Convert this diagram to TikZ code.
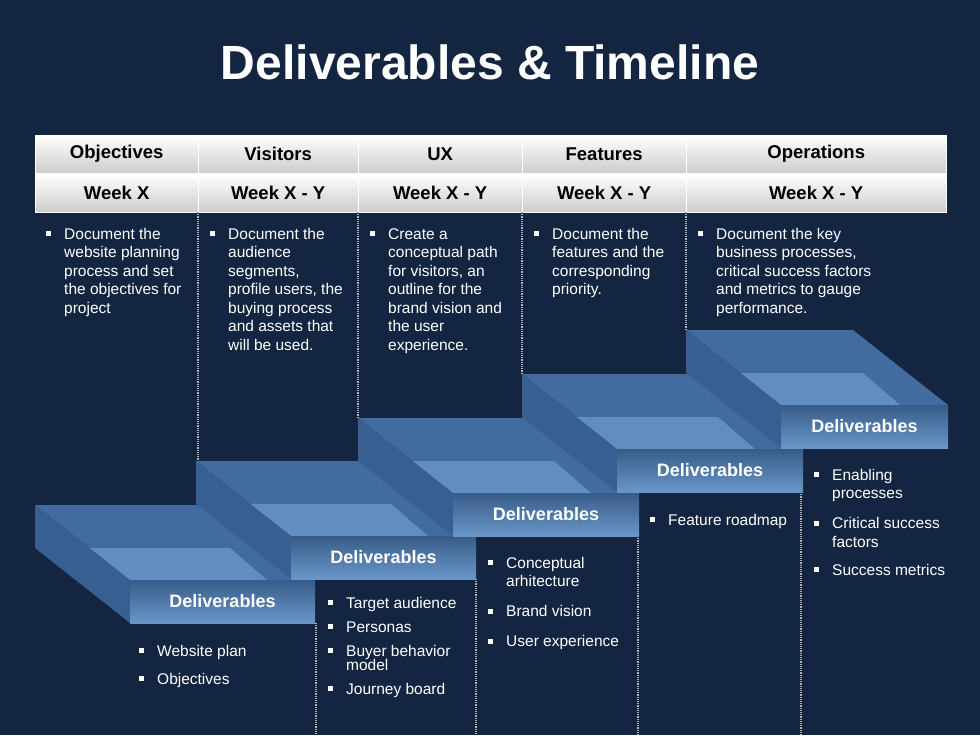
\documentclass[tikz,border=0pt]{standalone}
\usepackage{fontspec}
\setmainfont{Liberation Sans}
\usetikzlibrary{positioning}
\definecolor{bgnavy}{RGB}{19,37,64}
\definecolor{blkfront}{RGB}{70,115,170}
\definecolor{blktop}{RGB}{66,108,160}
\definecolor{blklight}{RGB}{105,150,200}
\definecolor{blkside}{RGB}{55,95,145}
\newcommand{\bul}{\makebox[18pt][l]{\raisebox{3pt}{\rule{5pt}{5pt}}}}
\newcommand{\ind}{\hspace*{18pt}}
\newcommand{\stepblock}[4]{% back x, back y, width, name
  \fill[blktop] (#1,#2) -- ++(#3,0) -- ++(95,75) -- ++(-#3,0) -- cycle;
  \fill[blklight,opacity=.8] (#1+22,#2+43) -- ++(#3-12,0) -- ++(37,32) -- ++(48-#3,0) -- cycle;
  \fill[blkside] (#1,#2) -- ++(95,75) -- ++(0,43) -- ++(-95,-75) -- cycle;
  \shade[top color=blkfront!80!black, bottom color=blklight] (#1+95,#2+75) rectangle ++(#3,43);
  \node[deliv] (#4) at (#1+95+#3/2,#2+96) {Deliverables};}
\begin{document}
\begin{tikzpicture}[x=1pt,y=-1pt,
    head/.style={draw=white, top color=white, bottom color=gray!40, minimum height=38pt, font=\bfseries\fontsize{18.5}{20}\selectfont, inner sep=0pt, anchor=north west},
    desc/.style={text=white, align=left, anchor=north west, font=\fontsize{15.5}{18.5}\selectfont, inner sep=0pt},
    deliv/.style={text=white, font=\bfseries\fontsize{18}{20}\selectfont},
    sep/.style={draw=gray!60, densely dotted, line width=1.2pt}
]
  \fill[bgnavy] (0,0) rectangle (980,735);
  \node[text=white, font=\bfseries\fontsize{48}{52}\selectfont] (title) at (490,62) {Deliverables \& Timeline};
  % header rows
  \node[head, minimum width=163pt] (h1) at (35,135) {Objectives};
  \node[head, minimum width=160pt] (h2) at (198,135) {Visitors};
  \node[head, minimum width=164pt] (h3) at (358,135) {UX};
  \node[head, minimum width=164pt] (h4) at (522,135) {Features};
  \node[head, minimum width=260pt] (h5) at (686,135) {Operations};
  \node[head, minimum width=163pt] (w1) at (35,174) {Week X};
  \node[head, minimum width=160pt] (w2) at (198,174) {Week X - Y};
  \node[head, minimum width=164pt] (w3) at (358,174) {Week X - Y};
  \node[head, minimum width=164pt] (w4) at (522,174) {Week X - Y};
  \node[head, minimum width=260pt] (w5) at (686,174) {Week X - Y};
  % dotted separators
  \draw[sep] (198,212) -- (198,461);
  \draw[sep] (358,212) -- (358,418);
  \draw[sep] (522,212) -- (522,374);
  \draw[sep] (686,212) -- (686,330);
  \draw[sep] (316,623) -- (316,735);
  \draw[sep] (476,579) -- (476,735);
  \draw[sep] (638,536) -- (638,735);
  \draw[sep] (801,492) -- (801,735);
  % descriptions
  \node[desc] (d1) at (46,228) {\bul Document the\\\ind website planning\\\ind process and set\\\ind the objectives for\\\ind project};
  \node[desc] (d2) at (210,228) {\bul Document the\\\ind audience\\\ind segments,\\\ind profile users, the\\\ind buying process\\\ind and assets that\\\ind will be used.};
  \node[desc] (d3) at (370,228) {\bul Create a\\\ind conceptual path\\\ind for visitors, an\\\ind outline for the\\\ind brand vision and\\\ind the user\\\ind experience.};
  \node[desc] (d4) at (534,228) {\bul Document the\\\ind features and the\\\ind corresponding\\\ind priority.};
  \node[desc] (d5) at (698,228) {\bul Document the key\\\ind business processes,\\\ind critical success factors\\\ind and metrics to gauge\\\ind performance.};
  % steps
  \stepblock{35}{505}{185}{b1}
  \stepblock{196}{461}{185}{b2}
  \stepblock{358}{418}{186}{b3}
  \stepblock{522}{374}{186}{b4}
  \stepblock{686}{330}{167}{b5}
  % deliverable lists
  \node[desc] (l1) at (139,645) {\bul Website plan\\[9.5pt]\bul Objectives};
  \node[desc] (l2) at (328,597) {\bul Target audience\\[5.5pt]\bul Personas\\[5.5pt]\bul Buyer behavior\\[-4.5pt]\ind model\\[5.5pt]\bul Journey board};
  \node[desc] (l3) at (488,557) {\bul Conceptual\\\ind arhitecture\\[11.5pt]\bul Brand vision\\[11.5pt]\bul User experience};
  \node[desc] (l4) at (650,514) {\bul Feature roadmap};
  \node[desc] (l5) at (814,469) {\bul Enabling\\\ind processes\\[11.5pt]\bul Critical success\\\ind factors\\[9.5pt]\bul Success metrics};
\end{tikzpicture}
\end{document}
